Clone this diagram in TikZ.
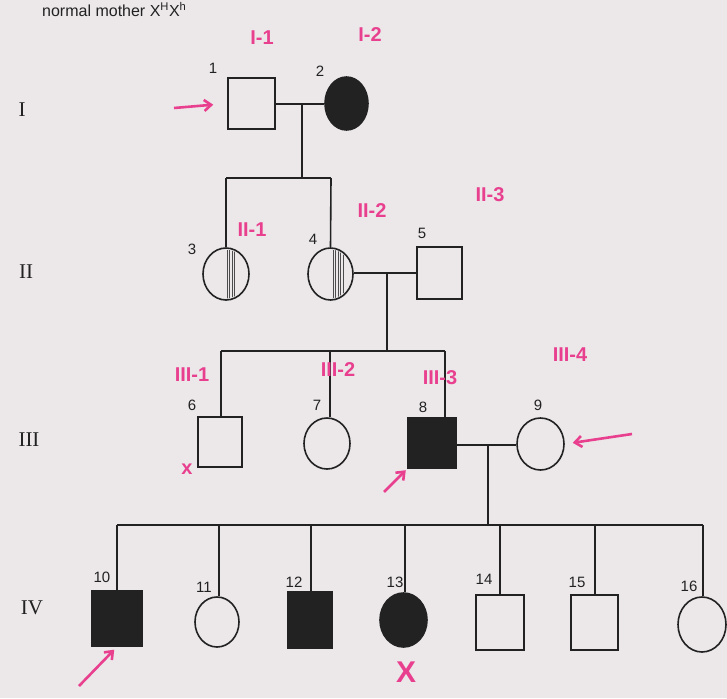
\documentclass[tikz,border=0pt]{standalone}
\usepackage{fontspec}
\setmainfont{Liberation Sans}
\newfontfamily\serifroman{Liberation Serif}
\usetikzlibrary{shapes.geometric,arrows.meta}
\definecolor{paper}{HTML}{ECE8E9}
\definecolor{ink}{HTML}{222222}
\definecolor{pinkink}{HTML}{E8408F}
\tikzset{
  male/.style={rectangle,draw=ink,line width=1.6pt,inner sep=0pt},
  female/.style={ellipse,draw=ink,line width=1.6pt,inner sep=0pt},
  affected/.style={fill=ink},
  link/.style={draw=ink,line width=1.6pt},
  num/.style={text=ink,font=\fontsize{15}{15}\selectfont,inner sep=0pt},
  gen/.style={text=ink,font=\serifroman\fontsize{21}{21}\selectfont,inner sep=0pt},
  anno/.style={text=pinkink,font=\bfseries\fontsize{20}{20}\selectfont,inner sep=0pt},
  pinkarrow/.style={draw=pinkink,line width=2.6pt,-{Straight Barb[length=7pt,width=11pt]}},
  hatch/.style={draw=gray!60!black,line width=0.8pt}
}
\begin{document}
\begin{tikzpicture}[x=1pt,y=-1pt]
\useasboundingbox (0,0) rectangle (727,698);
\fill[paper] (0,0) rectangle (727,698);
% top text (cut by the page edge in the reference)
\node[anchor=base west,text=ink,font=\fontsize{16}{16}\selectfont,inner sep=0pt] (toptext) at (42,17) {normal mother X\textsuperscript{H}X\textsuperscript{h}};
% generation labels
\node[gen] (gI) at (22,110) {I};
\node[gen] (gII) at (26,272) {II};
\node[gen] (gIII) at (29,440) {III};
\node[gen] (gIV) at (32,608) {IV};
% Generation I
\node[male,minimum width=47pt,minimum height=51pt] (n1) at (251.5,103.5) {};
\node[female,affected,minimum width=43pt,minimum height=53pt] (n2) at (346.5,103.5) {};
% Generation II
\node[female,minimum width=46pt,minimum height=52pt] (n3) at (226,274) {};
\node[female,minimum width=45pt,minimum height=52pt] (n4) at (330.5,274) {};
\node[male,minimum width=45pt,minimum height=52pt] (n5) at (439.5,273) {};
% hatching (carriers)
\begin{scope}
  \clip (226,274) ellipse (21.5pt and 24.5pt);
  \foreach \xx in {227,229.5,232,234.5} \draw[hatch] (\xx,250) -- (\xx,300);
\end{scope}
\begin{scope}
  \clip (330.5,274) ellipse (21pt and 24.5pt);
  \foreach \xx in {333,335.5,338,340.5,343} \draw[hatch] (\xx,250) -- (\xx,300);
\end{scope}
% Generation III
\node[male,minimum width=44pt,minimum height=50pt] (n6) at (220,442) {};
\node[female,minimum width=46pt,minimum height=51pt] (n7) at (327,443.5) {};
\node[male,affected,minimum width=48pt,minimum height=50pt] (n8) at (432,443) {};
\node[female,minimum width=47pt,minimum height=52pt] (n9) at (540.5,444) {};
% Generation IV
\node[male,affected,minimum width=50pt,minimum height=55pt] (n10) at (117,618.5) {};
\node[female,minimum width=44pt,minimum height=50pt] (n11) at (217,622) {};
\node[male,affected,minimum width=44pt,minimum height=56pt] (n12) at (310,620) {};
\node[female,affected,minimum width=47pt,minimum height=54pt] (n13) at (403.5,620) {};
\node[male,minimum width=48pt,minimum height=55pt] (n14) at (500,622.5) {};
\node[male,minimum width=47pt,minimum height=55pt] (n15) at (594.5,622.5) {};
\node[female,minimum width=48pt,minimum height=55pt] (n16) at (702,624.5) {};
% mating and sibship coordinates
\coordinate (m1) at (302,104);
\coordinate (s1l) at (226,178);
\coordinate (s1r) at (331,178);
\coordinate (s1m) at (302,178);
\coordinate (m2) at (387,273);
\coordinate (s2l) at (221,351);
\coordinate (s2r) at (445,351);
\coordinate (s2m) at (387,351);
\coordinate (s2c) at (330,351);
\coordinate (m3) at (488,445);
\coordinate (s3l) at (117,525);
\coordinate (s3r) at (703,525);
\coordinate (s3m) at (488,525);
% connectors generation I -> II
\draw[link] (n1.east |- m1) -- (n2.west |- m1);
\draw[link] (m1) -- (s1m);
\draw[link] (s1l) -- (s1r);
\draw[link] (s1l) -- (n3.north);
\draw[link] (s1r) -- (n4.north);
% generation II -> III
\draw[link] (n4.east |- m2) -- (n5.west |- m2);
\draw[link] (m2) -- (s2m);
\draw[link] (s2l) -- (s2r);
\draw[link] (s2l) -- (s2l |- n6.north);
\draw[link] (s2c) -- (s2c |- n7.north);
\draw[link] (s2r) -- (s2r |- n8.north);
% generation III -> IV
\draw[link] (n8.east |- m3) -- (n9.west |- m3);
\draw[link] (m3) -- (s3m);
\draw[link] (s3l) -- (s3r);
\foreach \k/\xx in {n10/117,n11/219,n12/311,n13/405,n14/500,n15/595,n16/703}
  \draw[link] (\xx,525) -- (\xx,525 |- \k.north);
% individual numbers
\node[num] (l1) at (213,68) {1};
\node[num] (l2) at (320,71) {2};
\node[num] (l3) at (192,249) {3};
\node[num] (l4) at (313,239) {4};
\node[num] (l5) at (422,233) {5};
\node[num] (l6) at (192,405) {6};
\node[num] (l7) at (317,405) {7};
\node[num] (l8) at (423,407) {8};
\node[num] (l9) at (538,405) {9};
\node[num] (l10) at (102,577) {10};
\node[num] (l11) at (204,587) {11};
\node[num] (l12) at (294,582) {12};
\node[num] (l13) at (395,582) {13};
\node[num] (l14) at (484,579) {14};
\node[num] (l15) at (577,582) {15};
\node[num] (l16) at (689,586) {16};
% pink annotations
\node[anno] (a1) at (262,38) {I-1};
\node[anno] (a2) at (370,35) {I-2};
\node[anno] (a3) at (252,230) {II-1};
\node[anno] (a4) at (372,211) {II-2};
\node[anno] (a5) at (490,195) {II-3};
\node[anno] (a6) at (192,375) {III-1};
\node[anno] (a7) at (338,370) {III-2};
\node[anno] (a8) at (440,378) {III-3};
\node[anno] (a9) at (570,355) {III-4};
\node[anno] (x6) at (187,469) {x};
\node[anno,font=\bfseries\fontsize{30}{30}\selectfont] (x13) at (406,672) {X};
% pink arrows
\coordinate (p1) at (174,108);
\coordinate (p9) at (632,434);
\coordinate (p8) at (384,492);
\coordinate (p10) at (79,686);
\draw[pinkarrow,shorten >=14pt] (p1) -- (n1.west);
\draw[pinkarrow,shorten >=8pt] (p9) -- (n9.east);
\draw[pinkarrow,shorten >=2pt] (p8) -- (n8.south west);
\draw[pinkarrow,shorten >=4pt] (p10) -- (n10.south);
\end{tikzpicture}
\end{document}
